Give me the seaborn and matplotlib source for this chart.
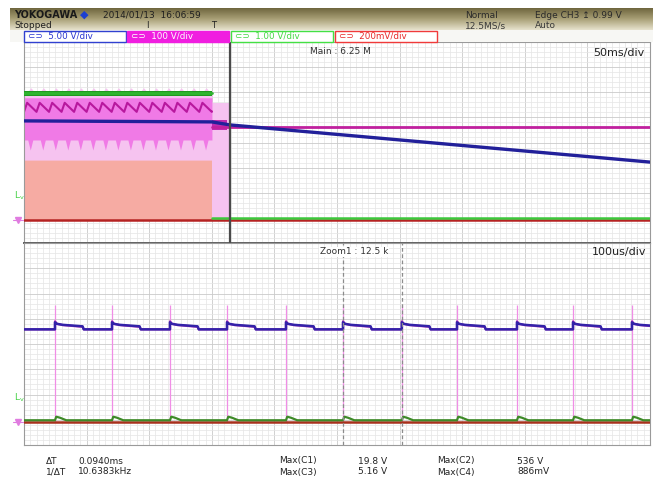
import numpy as np
import matplotlib
matplotlib.use("Agg")
import matplotlib.pyplot as plt
import matplotlib.transforms as mtransforms
from matplotlib.patches import Rectangle
from matplotlib.colors import LinearSegmentedColormap
import seaborn as sns

sns.set_theme(style="white")
plt.rcParams['font.family'] = ['Liberation Sans Narrow', 'DejaVu Sans']

# ---- channel setup ----
channels = ["C1", "C2", "C3", "C4"]
volts_per_div = {"C1": 5.0, "C2": 100.0, "C3": 1.0, "C4": 0.2}
scale_labels = ["5.00 V/div", "100 V/div", "1.00 V/div", "200mV/div"]
ground_div = -3.1
trigger_level_v = 0.99  # CH3 edge trigger

# ---- main window (50 ms/div), time in ms ----
main_t0, main_per_div = -164.5, 50.0
main_t_end = main_t0 + 10 * main_per_div
stop_t = -14.4  # switching stops here

c1_main_t = [-164.5, -14.4, 0.0, 335.5]
c1_main_v = [19.8, 19.6, 19.0, 11.6]
c2_main_after_t = [-14.4, 335.5]
c2_main_after_v = [372, 372]
c3_main_before_t = [-164.5, -14.4]
c3_main_before_v = [5.06, 5.06]
c3_main_after_t = [-14.4, 335.5]
c3_main_after_v = [0.1, 0.1]
c4_main_t = [-164.5, 335.5]
c4_main_v = [0.0, 0.0]

# 100 Hz bulk ripple seen in the C2 envelope
ripple_period_ms = 10.0
cap_phase = [0.0, 0.35, 0.55, 0.75, 1.0]
cap_v = [516, 516, 528, 516, 516]
zigzag_phase = [0.0, 0.25, 1.0]
zigzag_v = [432, 468, 432]
band_low_phase = [0.0, 0.3, 0.5, 0.7, 1.0]
band_low_v = [320, 320, 280, 320, 320]
band_top_v = 488
haze_low_v = 240
c4_env_top_v = 0.48
after_haze_t = [-14.4, 0.0]
after_haze_v = [10, 468]
after_blob_t = [-14.4, -2.0]
after_blob_v = [360, 398]

# ---- zoom window (100 us/div), time in us ----
zoom_t0, zoom_per_div = 0.0, 100.0
zoom_t_end = zoom_t0 + 10 * zoom_per_div
spike_t_us = [49.5, 140.6, 233.2, 324.3, 418.5, 509.6, 603.6, 691.7, 787.5, 877.0, 971.2]
spike_low_v, spike_high_v = 0.0, 466.0
c1_zoom_off = [0.0, 0.0, 3.0, 12.0, 44.0, 46.0]
c1_zoom_v = [18.4, 19.8, 19.5, 19.3, 19.0, 18.4]
c2_zoom_off = [0.0, 0.0, 3.0, 12.0, 44.0, 46.0]
c2_zoom_v = [368, 400, 390, 385, 378, 368]
c3_zoom_off = [0.0, 2.0, 8.0, 18.0]
c3_zoom_v = [0.08, 0.22, 0.18, 0.08]
c4_zoom_v = 0.0
cursor_a_us = 509.6
delta_t_ms = 0.0940

meas_left = [("ΔT", "0.0940ms"), ("1/ΔT", "10.6383kHz")]
meas_mid = [("Max(C1)", "19.8 V"), ("Max(C3)", "5.16 V")]
meas_right = [("Max(C2)", "536 V"), ("Max(C4)", "886mV")]

colors = {"C1": "#22209a", "C2": "#c0209e", "C3": "#2fb52f", "C4": "#b52222"}


def to_div(v, ch):
    return np.asarray(v, float) / volts_per_div[ch] + ground_div


def tile_ripple(t_start, t_stop, period, phase, values):
    phase = np.asarray(phase, float)
    values = np.asarray(values, float)
    n = int(np.ceil((t_stop - t_start) / period))
    t = np.concatenate([t_start + (k + phase) * period for k in range(n)])
    v = np.tile(values, n)
    keep = t < t_stop
    return np.append(t[keep], t_stop), np.append(v[keep], np.interp(t_stop, t, v))


def after_spikes(offsets, values, base):
    t = [zoom_t0]
    v = [base]
    for s in spike_t_us:
        t += [s + o for o in offsets]
        v += list(values)
    t.append(zoom_t_end + 50)
    v.append(base)
    return np.array(t), np.array(v, float)


W, H = 653, 497
fig = plt.figure(figsize=(W / 100, H / 100), dpi=100)
fig.patch.set_facecolor("white")


def fx(x):
    return x / W


def fy(y):
    return 1 - y / H


def scope_grid(ax, x0, per_div):
    ax.set_xlim(x0, x0 + 10 * per_div)
    ax.set_ylim(-4, 4)
    ax.set_xticks(x0 + per_div * np.arange(11))
    ax.set_xticks(x0 + per_div / 10 * np.arange(101), minor=True)
    ax.set_yticks(np.arange(-4, 5))
    ax.set_yticks(np.linspace(-4, 4, 41), minor=True)
    ax.grid(which="major", color="#cacaca", lw=0.6)
    ax.grid(which="minor", color="#e5e5e5", lw=0.5)
    ax.tick_params(which="both", length=0, labelbottom=False, labelleft=False)
    ax.set_axisbelow(True)
    ax.set_facecolor("white")
    for s in ax.spines.values():
        s.set_color("#9a9a9a")
        s.set_linewidth(0.8)


def line(ax, t, v, color, lw, z=3):
    sns.lineplot(x=np.asarray(t, float), y=np.asarray(v, float), ax=ax, color=color,
                 lw=lw, sort=False, estimator=None, zorder=z)


ax_top = fig.add_axes([fx(24), fy(243), fx(650) - fx(24), 201 / H])
ax_bot = fig.add_axes([fx(24), fy(445), fx(650) - fx(24), 202 / H])
scope_grid(ax_top, main_t0, main_per_div)
scope_grid(ax_bot, zoom_t0, zoom_per_div)
ax_top.spines["bottom"].set_color("#606060")
ax_top.spines["bottom"].set_linewidth(1.4)

# ---- main window traces ----
ax = ax_top
ax.fill_between([main_t0, stop_t], to_div(0, "C4"), to_div(c4_env_top_v, "C4"),
                color="#f6aba3", lw=0, zorder=1)
ct, cv = tile_ripple(main_t0, stop_t, ripple_period_ms, cap_phase, cap_v)
ax.fill_between(ct, to_div(haze_low_v, "C2"), to_div(cv, "C2"), color="#f6c3f0", lw=0, zorder=1.2)
bt, bv = tile_ripple(main_t0, stop_t, ripple_period_ms, band_low_phase, band_low_v)
ax.fill_between(bt, to_div(bv, "C2"), to_div(band_top_v, "C2"), color="#f07ae6", lw=0, zorder=1.4)
zt, zv = tile_ripple(main_t0, stop_t, ripple_period_ms, zigzag_phase, zigzag_v)
line(ax, zt, to_div(zv, "C2"), "#b8189e", 1.5, z=2)
ax.fill_between(after_haze_t, to_div(after_haze_v[0], "C2"), to_div(after_haze_v[1], "C2"),
                color="#f6c3f0", lw=0, zorder=1.2)
ax.fill_between(after_blob_t, to_div(after_blob_v[0], "C2"), to_div(after_blob_v[1], "C2"),
                color="#c02ab0", lw=0, zorder=1.6)
line(ax, c4_main_t, to_div(c4_main_v, "C4"), colors["C4"], 1.8, z=3)
line(ax, c3_main_after_t, to_div(c3_main_after_v, "C3"), "#3cc83c", 1.8, z=3.2)
line(ax, c3_main_before_t, to_div(c3_main_before_v, "C3"), colors["C3"], 2.0, z=3.2)
ax.fill_between(c3_main_before_t, to_div(c3_main_before_v[0] - 0.1, "C3"),
                to_div(c3_main_before_v[0] + 0.1, "C3"), color="#1f9a1f", lw=0, zorder=3.1)
line(ax, c2_main_after_t, to_div(c2_main_after_v, "C2"), colors["C2"], 2.0, z=3.3)
line(ax, c1_main_t, to_div(c1_main_v, "C1"), colors["C1"], 2.4, z=3.5)
ax.axvline(0.0, color="#4a4a4a", lw=1.6, zorder=4)

# ---- zoom window traces ----
ax = ax_bot
ax.vlines(spike_t_us, to_div(spike_low_v, "C2"), to_div(spike_high_v, "C2"),
          color="#f08ee6", lw=0.9, zorder=2)
t2, v2 = after_spikes(c2_zoom_off, c2_zoom_v, c2_zoom_v[0])
line(ax, t2, to_div(v2, "C2"), "#c03cc0", 1.6, z=3)
t1, v1 = after_spikes(c1_zoom_off, c1_zoom_v, c1_zoom_v[0])
line(ax, t1, to_div(v1, "C1"), "#3322a8", 1.8, z=3.2)
line(ax, [zoom_t0, zoom_t_end], to_div([c4_zoom_v, c4_zoom_v], "C4"), "#a8301c", 1.8, z=3)
t3, v3 = after_spikes(c3_zoom_off, c3_zoom_v, c3_zoom_v[0])
line(ax, t3, to_div(v3, "C3"), "#3e8a28", 1.6, z=3.1)
cursor_b_us = cursor_a_us + delta_t_ms * 1000
for c in (cursor_a_us, cursor_b_us):
    ax.axvline(c, color="#8c8c8c", lw=0.9, ls=(0, (3, 2)), zorder=4)

for a in (ax_top, ax_bot):
    a.set_xlabel("")
    a.set_ylabel("")
    a.set_xlim(a.get_xticks()[0], a.get_xticks()[-1])
    a.set_ylim(-4, 4)
    trans = mtransforms.blended_transform_factory(fig.transFigure, a.transData)
    a.text(fx(14), to_div(trigger_level_v, "C3"), r"L$_{\mathregular{v}}$", color="#44d044",
           fontsize=6.5, transform=trans, va="center", ha="left")
    a.plot([fx(18)], [ground_div], marker="v", color="#e07ce0", markersize=5,
           transform=trans, clip_on=False)
    a.plot([fx(13), fx(23)], [ground_div, ground_div], color="#e07ce0", lw=0.8,
           transform=trans, clip_on=False)

# ---- panel captions ----
fig.text(fx(310), fy(52), "Main : 6.25 M", fontsize=6.5, color="#333333", va="center")
fig.text(fx(593), fy(53), "50ms/div", fontsize=8, color="#222222", va="center")
fig.text(fx(320), fy(252), "Zoom1 : 12.5 k", fontsize=6.5, color="#333333", va="center",
         bbox=dict(facecolor="white", edgecolor="none", pad=0.5))
fig.text(fx(592), fy(252), "100us/div", fontsize=8, color="#222222", va="center")

# ---- header bar ----
hdr = fig.add_axes([fx(10), fy(30), fx(653) - fx(10), 22 / H])
grad = LinearSegmentedColormap.from_list("hdr", ["#6f663e", "#a9a077", "#e6e2cd"])
hdr.imshow(np.linspace(0, 1, 64).reshape(-1, 1), aspect="auto", cmap=grad,
           extent=[0, 1, 0, 1], origin="upper")
hdr.set_axis_off()
fig.text(fx(14), fy(15), "YOKOGAWA", fontsize=7, color="#1a1a1a", weight="bold", va="center")
fig.text(fx(80), fy(15), "◆", fontsize=8, color="#1d3fd0", va="center")
fig.text(fx(103), fy(15), "2014/01/13  16:06:59", fontsize=6.5, color="#202020", va="center")
fig.text(fx(14), fy(25.5), "Stopped", fontsize=6.5, color="#202020", va="center")
fig.text(fx(146), fy(25.5), "I", fontsize=6, color="#202020", va="center")
fig.text(fx(211), fy(25.5), "T", fontsize=6, color="#202020", va="center")
fig.text(fx(465), fy(15), "Normal", fontsize=6.5, color="#2a2a2a", va="center")
fig.text(fx(465), fy(25.5), "12.5MS/s", fontsize=6.5, color="#3a3a3a", va="center")
fig.text(fx(535), fy(15), "Edge CH3 ↥ 0.99 V", fontsize=6.5, color="#2a2a2a", va="center",
         family=["Liberation Sans Narrow", "DejaVu Sans"])
fig.text(fx(535), fy(25.5), "Auto", fontsize=6.5, color="#3a3a3a", va="center")

# ---- channel scale boxes ----
fig.add_artist(Rectangle((fx(10), fy(42)), fx(653) - fx(10), 12 / H, transform=fig.transFigure,
                         facecolor="#f7f7f4", edgecolor="none"))
box_x = [24, 127, 231, 335]
box_face = ["white", "#f01ee0", "white", "white"]
box_edge = ["#3040d0", "#f01ee0", "#44e044", "#f03a3a"]
box_text = ["#2a36d0", "white", "#44d844", "#e82a2a"]
for x0, fc, ec, tc, lab in zip(box_x, box_face, box_edge, box_text, scale_labels):
    fig.add_artist(Rectangle((fx(x0), fy(41.5)), 102 / W, 10.5 / H, transform=fig.transFigure,
                             facecolor=fc, edgecolor=ec, lw=1.0))
    fig.text(fx(x0 + 4), fy(36.3), "⊂⊃  " + lab, fontsize=6.3, color=tc, va="center")

# ---- measurement readout ----
for i, (k, v) in enumerate(meas_left):
    fig.text(fx(46), fy(461 + 11 * i), k, fontsize=6.5, color="#222222", va="center")
    fig.text(fx(78), fy(461 + 11 * i), v, fontsize=6.5, color="#222222", va="center")
for i, (k, v) in enumerate(meas_mid):
    fig.text(fx(279), fy(461 + 11 * i), k, fontsize=6.5, color="#222222", va="center")
    fig.text(fx(358), fy(461 + 11 * i), v, fontsize=6.5, color="#222222", va="center")
for i, (k, v) in enumerate(meas_right):
    fig.text(fx(437), fy(461 + 11 * i), k, fontsize=6.5, color="#222222", va="center")
    fig.text(fx(517), fy(461 + 11 * i), v, fontsize=6.5, color="#222222", va="center")

fig.savefig("out.png", dpi=100)
